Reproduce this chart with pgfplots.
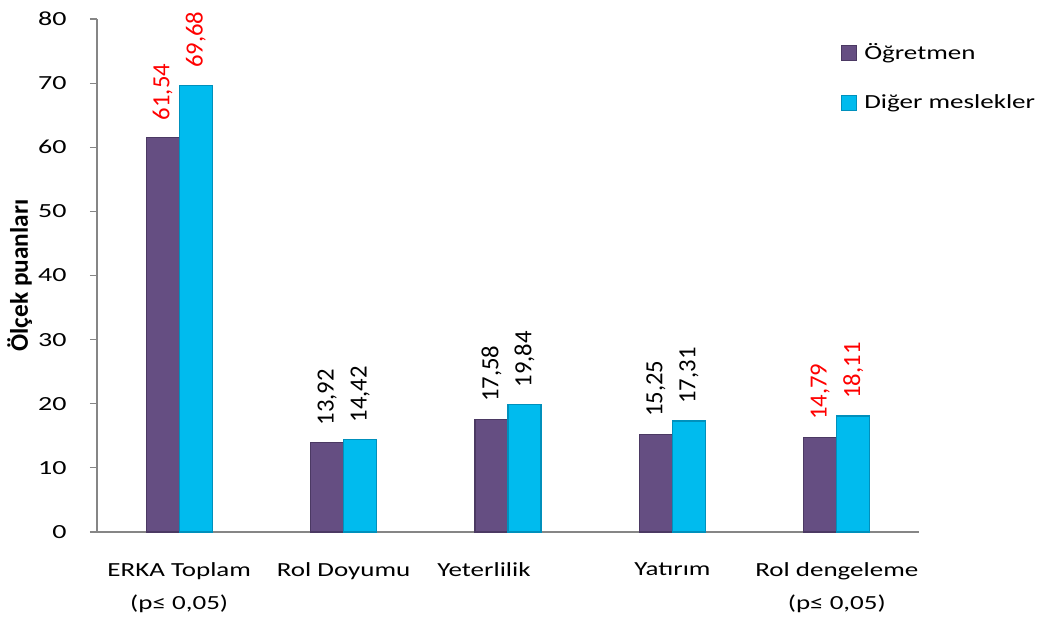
\documentclass[border=0pt]{standalone}
\usepackage{fontspec}
\setmainfont{Carlito}[FakeStretch=1.35]
\newfontfamily\rotfont{Carlito}
\newfontfamily\tickfont{Carlito}[FakeStretch=1.4]
\usepackage{pgfplots}
\pgfplotsset{compat=1.18}
\usepackage{pgfplotstable}
\definecolor{purp}{HTML}{654E82}
\definecolor{purpD}{HTML}{4B3963}
\definecolor{cyan1}{HTML}{00BBEE}
\definecolor{cyanD}{HTML}{0090BC}
\definecolor{axgray}{HTML}{868686}
\pgfplotstableread{
x y c
0.5 61.54 1
1.5 13.92 0
2.5 17.58 0
3.5 15.25 0
4.5 14.79 1
}\tblA
\pgfplotstableread{
x y c
0.5 69.68 1
1.5 14.42 0
2.5 19.84 0
3.5 17.31 0
4.5 18.11 1
}\tblB
\begin{document}
\begin{tikzpicture}[x=0.75pt,y=0.75pt]
\useasboundingbox (0,0) rectangle (1038,619);
\begin{axis}[
  at={(97*0.75pt,87*0.75pt)}, anchor=south west,
  scale only axis,
  width=616.5pt, height=384.75pt,
  xmin=0, xmax=5, ymin=0, ymax=80,
  ytick={0,10,...,80},
  yticklabels={\mbox{\tickfont 0},\mbox{\tickfont 10},\mbox{\tickfont 20},\mbox{\tickfont 30},\mbox{\tickfont 40},\mbox{\tickfont 50},\mbox{\tickfont 60},\mbox{\tickfont 70},\mbox{\tickfont 80}},
  xtick={0.5,1.5,2.354,3.5,4.5},
  xticklabels={{ERKA Toplam\\(p≤ 0,05)},{Rol Doyumu},{Yeterlilik},{Yatırım},{Rol dengeleme\\(p≤ 0,05)}},
  axis lines*=left,
  axis line style={axgray, line width=0.8pt},
  y axis line style={-}, x axis line style={-},
  major tick length=7*0.75pt,
  ytick style={axgray, line width=0.8pt},
  xtick style={draw=none},
  tick align=outside,
  /pgf/number format/assume math mode=true,
  tick label style={font=\fontsize{15}{18}\selectfont},
  yticklabel style={xshift=-14pt},
  xticklabel style={align=center, yshift=-14pt, font=\fontsize{15}{25}\selectfont},
  ylabel={\rotfont\bfseries Ölçek puanları},
  ylabel style={at={(axis description cs:-0.094,0.5)}, anchor=center, font=\fontsize{19}{22}\selectfont},
  ybar=0pt, bar width=24.75pt,
  visualization depends on={\thisrow{c} \as \labflag},
  nodes near coords={\ifdim\labflag pt>0.5pt\color{red}\else\color{black}\fi\pgfmathprintnumber[fixed,precision=2,fixed zerofill,use comma]{\pgfplotspointmeta}},
  every node near coord/.append style={rotate=90, anchor=west, inner xsep=12.5pt, inner ysep=0pt, font=\rotfont\fontsize{18.5}{20}\selectfont},
  legend style={at={(rel axis cs:0.905,0.958)}, anchor=north west, draw=none, fill=none,
    font=\fontsize{15}{18}\selectfont, row sep=21pt, inner sep=0pt,
    /tikz/every odd column/.append style={column sep=3.5pt}},
  legend cell align=left,
  legend image code/.code={\draw[#1, line width=0.6pt] (0pt,-5.6pt) rectangle (11.25pt,5.6pt);},
]
\addplot[fill=purp, draw=purpD, line width=1pt] table[x=x,y=y] {\tblA};
\addplot[fill=cyan1, draw=cyanD, line width=1pt] table[x=x,y=y] {\tblB};
\legend{Öğretmen, Diğer meslekler}
\end{axis}
\end{tikzpicture}
\end{document}
